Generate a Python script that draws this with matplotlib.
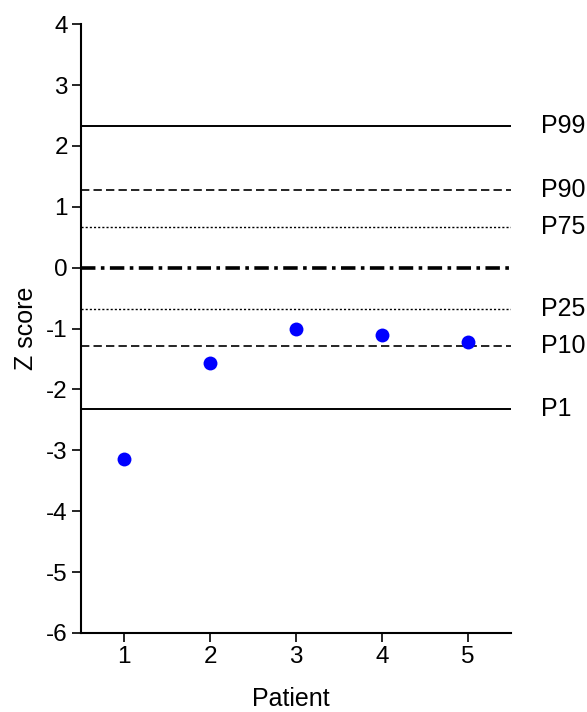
import numpy as np
import matplotlib.pyplot as plt

plt.rcParams['font.family'] = ['Liberation Sans', 'DejaVu Sans']
plt.rcParams['axes.unicode_minus'] = False

# === Data ===
patients = [1, 2, 3, 4, 5]
z_scores = [-3.14, -1.56, -1.00, -1.11, -1.22]

# percentile reference lines (z values)
pct_labels = ['P99', 'P90', 'P75', 'P50', 'P25', 'P10', 'P1']
pct_values = [2.326, 1.282, 0.674, 0.0, -0.674, -1.282, -2.326]
pct_styles = ['-', (0, (5, 2.5)), (0, (1.5, 1.5)), (0, (4, 1.5, 1, 1.5)),
              (0, (1.5, 1.5)), (0, (5, 2.5)), '-']
pct_widths = [1.4, 1.2, 1.0, 2.6, 1.0, 1.2, 1.4]
show_label = [True, True, True, False, True, True, True]

# === Plot ===
fig = plt.figure(figsize=(5.87, 7.12), dpi=100)
ax = fig.add_axes([0.138, 0.111, 0.733, 0.855])

for lab, val, ls, lw, show in zip(pct_labels, pct_values, pct_styles, pct_widths, show_label):
    ax.axhline(val, color='black', linestyle=ls, linewidth=lw, zorder=1)
    if show:
        ax.text(1.07, val, lab, transform=ax.get_yaxis_transform(),
                ha='left', va='center', fontsize=18, clip_on=False)

ax.scatter(patients, z_scores, s=100, color='#0000ff', zorder=3, linewidths=0)

ax.set_xlim(0.5, 5.5)
ax.set_ylim(-6, 4)
ax.set_xticks(patients)
ax.set_yticks(np.arange(-6, 5, 1))

ax.spines['top'].set_visible(False)
ax.spines['right'].set_visible(False)
ax.spines['left'].set_linewidth(1.5)
ax.spines['bottom'].set_linewidth(1.5)
ax.tick_params(axis='both', labelsize=17.5, width=1.2, length=6.5, pad=3,
               direction='out')

ax.set_xlabel('Patient', fontsize=18)
ax.set_ylabel('Z score', fontsize=18)
ax.xaxis.set_label_coords(0.488, -0.088)
ax.yaxis.set_label_coords(-0.100, 0.5)

plt.savefig('out.png', dpi=100)
